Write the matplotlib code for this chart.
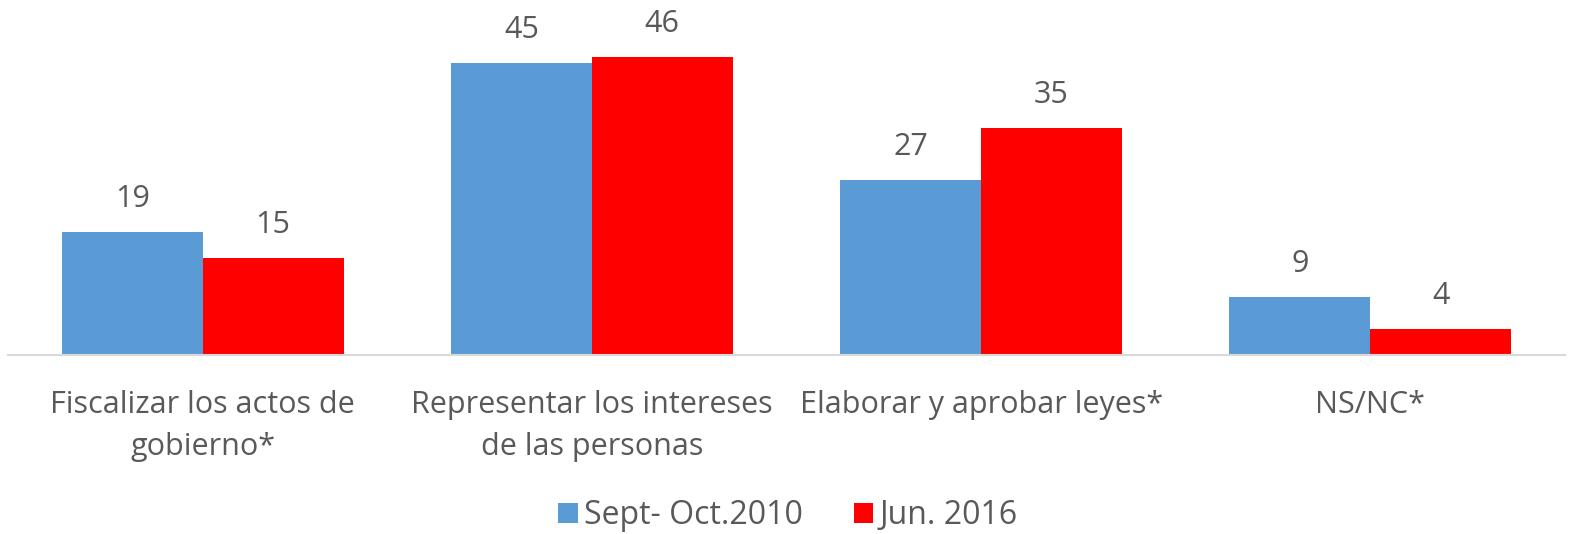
import matplotlib.pyplot as plt
import matplotlib as mpl
import numpy as np

mpl.rcParams["font.family"] = ["Open Sans", "DejaVu Sans"]

categorias = ["Fiscalizar los actos de\ngobierno*",
              "Representar los intereses\nde las personas",
              "Elaborar y aprobar leyes*",
              "NS/NC*"]
serie_2010 = [19, 45, 27, 9]
serie_2016 = [15, 46, 35, 4]
nombres = ["Sept- Oct.2010", "Jun. 2016"]

gris = "#595959"
fig = plt.figure(figsize=(15.76, 5.34), dpi=100)
ax = fig.add_axes([8 / 1576, (534 - 355) / 534, 1557 / 1576, 324 / 534])

x = np.arange(len(categorias))
w = 0.362
b1 = ax.bar(x - w / 2, serie_2010, w, color="#5B9BD5", label=nombres[0])
b2 = ax.bar(x + w / 2, serie_2016, w, color="#FF0000", label=nombres[1])

for bars in (b1, b2):
    for r in bars:
        ax.annotate("%d" % r.get_height(), (r.get_x() + r.get_width() / 2, r.get_height()),
                    xytext=(0, 13), textcoords="offset points", ha="center", va="bottom",
                    fontsize=22, color=gris, clip_on=False)

ax.set_xlim(-0.5, len(categorias) - 0.5)
ax.set_ylim(0, 50)
ax.set_yticks([])
ax.set_xticks(x)
ax.set_xticklabels(categorias, fontsize=22, color=gris, linespacing=1.55)
ax.tick_params(axis="x", length=0, pad=25)
for s in ["top", "right", "left"]:
    ax.spines[s].set_visible(False)
ax.spines["bottom"].set_color("#D9D9D9")
ax.spines["bottom"].set_linewidth(1.5)

leg = fig.legend(loc="lower center", bbox_to_anchor=(0.5, -0.05), ncol=2, frameon=False,
                 fontsize=23, handlelength=0.6, handleheight=0.6, handletextpad=0.2,
                 columnspacing=1.6)
for t in leg.get_texts():
    t.set_color(gris)

fig.savefig("out.png", dpi=100)
